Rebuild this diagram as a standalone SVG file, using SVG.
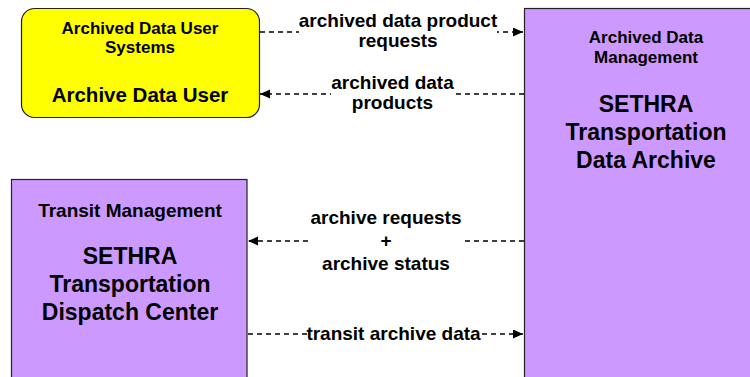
<svg xmlns="http://www.w3.org/2000/svg" width="750" height="377" viewBox="0 0 750 377">
<defs>
<marker id="ah" markerUnits="userSpaceOnUse" markerWidth="11" markerHeight="11" refX="10" refY="4.5" orient="auto">
<path d="M0,0 L10,4.5 L0,9 z" fill="#000"/>
</marker>
<style>
text{font-family:"Liberation Sans",Arial,sans-serif;font-weight:bold;fill:#000;text-anchor:middle}
.sub{font-size:17px}
.main{font-size:23px}
.lbl{font-size:19px}
.box{fill:#CC99FF;stroke:#222;stroke-width:1.2}
.flow{stroke:#000;stroke-width:1.5;stroke-dasharray:5,4;fill:none}
.bg{fill:#fff}
</style>
</defs>
<rect width="750" height="377" fill="#fff"/>
<g id="connectors">
<line class="flow" x1="260" y1="32" x2="523" y2="32" marker-end="url(#ah)"/>
<line class="flow" x1="524" y1="94" x2="260" y2="94" marker-end="url(#ah)"/>
<line class="flow" x1="524" y1="241" x2="248" y2="241" marker-end="url(#ah)"/>
<line class="flow" x1="248" y1="334" x2="523" y2="334" marker-end="url(#ah)"/>
<rect class="bg" x="299" y="12" width="198" height="40"/>
<text class="lbl" x="398" y="27">archived data product</text>
<text class="lbl" x="398" y="47">requests</text>
<rect class="bg" x="331" y="74" width="123" height="40"/>
<text class="lbl" x="392.5" y="89">archived data</text>
<text class="lbl" x="392.5" y="109">products</text>
<rect class="bg" x="310" y="207" width="152" height="66"/>
<text class="lbl" x="386" y="224">archive requests</text>
<text class="lbl" x="386" y="247">+</text>
<text class="lbl" x="386" y="270">archive status</text>
<rect class="bg" x="307" y="324" width="173" height="20"/>
<text class="lbl" x="393.5" y="340">transit archive data</text>
</g>
<g id="archive-data-user">
<rect x="21.5" y="8.5" width="238" height="109" rx="13" ry="13" fill="#FFFF00" stroke="#222" stroke-width="1.2"/>
<text class="sub" x="140" y="34">Archived Data User</text>
<text class="sub" x="140" y="53">Systems</text>
<text x="140" y="102" style="font-size:20.5px">Archive Data User</text>
</g>
<g id="data-archive">
<rect class="box" x="524.5" y="8.5" width="245" height="380"/>
<text class="sub" x="646" y="43">Archived Data</text>
<text class="sub" x="646" y="63">Management</text>
<text class="main" x="646" y="112">SETHRA</text>
<text class="main" x="646" y="140">Transportation</text>
<text class="main" x="646" y="168">Data Archive</text>
</g>
<g id="dispatch-center">
<rect class="box" x="11.5" y="179.5" width="235.5" height="210"/>
<text x="130" y="217" style="font-size:19px">Transit Management</text>
<text class="main" x="130" y="264">SETHRA</text>
<text class="main" x="130" y="292">Transportation</text>
<text class="main" x="130" y="320">Dispatch Center</text>
</g>
</svg>
